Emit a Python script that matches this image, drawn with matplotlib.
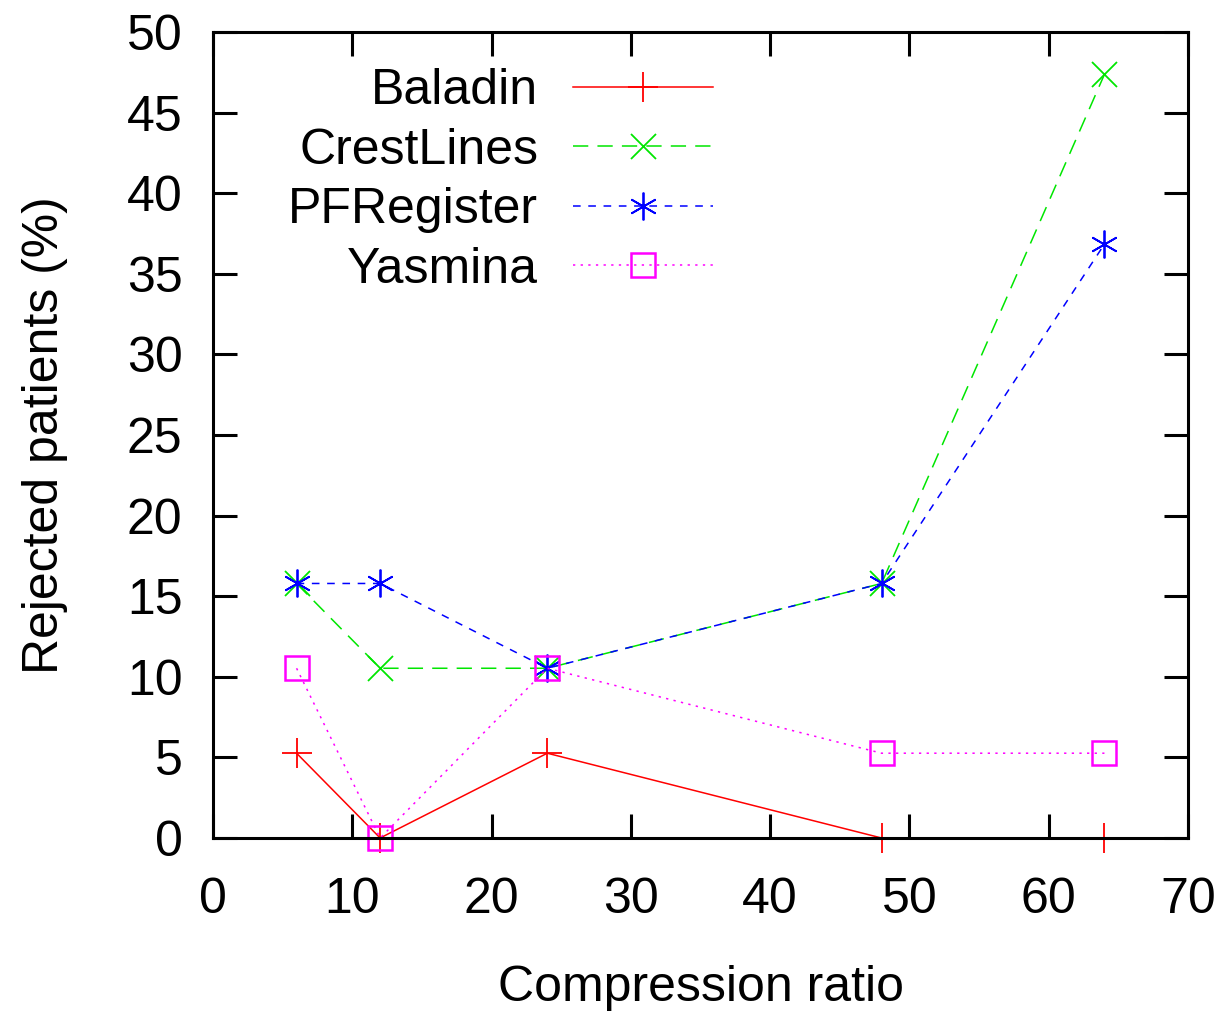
import matplotlib
matplotlib.use("Agg")
import matplotlib.pyplot as plt

ratios = [6, 12, 24, 48, 64]
baladin = [5.26, 0.0, 5.26, 0.0, 0.0]
crestlines = [15.79, 10.53, 10.53, 15.79, 47.37]
pfregister = [15.79, 15.79, 10.53, 15.79, 36.84]
yasmina = [10.53, 0.0, 10.53, 5.26, 5.26]

x_ticks = [0, 10, 20, 30, 40, 50, 60, 70]
y_ticks = [0, 5, 10, 15, 20, 25, 30, 35, 40, 45, 50]

plt.rcParams['font.family'] = ['Liberation Sans', 'DejaVu Sans']
fs = 36

fig = plt.figure(figsize=(12.26, 10.18), dpi=100)
ax = fig.add_axes([213/1226, 1 - 838/1018, 975/1226, 806/1018])

lw = 1.1
ax.plot(ratios, baladin, color='#ff0000', lw=lw, ls='-', marker='+',
        markersize=22, markeredgewidth=1.3, label='Baladin', clip_on=False)
ax.plot(ratios, crestlines, color='#00e600', lw=lw, dashes=(10, 6), marker='x',
        markersize=18, markeredgewidth=1.3, label='CrestLines', clip_on=False)
ax.plot(ratios, pfregister, color='#0000ff', lw=lw, dashes=(5, 5), marker=(6, 2, 0),
        markersize=20, markeredgewidth=1.3, label='PFRegister', clip_on=False)
ax.plot(ratios, yasmina, color='#ff00ff', lw=lw, dashes=(1.5, 3.5), marker='s',
        markersize=17, markeredgewidth=1.8, markerfacecolor='none', label='Yasmina',
        clip_on=False)

ax.set_xlim(0, 70)
ax.set_ylim(0, 50)
ax.set_xticks(x_ticks)
ax.set_yticks(y_ticks)
ax.tick_params(direction='in', length=17, width=2.2, labelsize=fs,
               top=True, right=True)
ax.tick_params(axis='x', pad=28)
ax.tick_params(axis='y', pad=22)
for s in ax.spines.values():
    s.set_linewidth(2.2)
    s.set_zorder(5)

ax.set_xlabel('Compression ratio', fontsize=fs, labelpad=30)
ax.set_ylabel('Rejected patients (%)', fontsize=fs, labelpad=42)

leg = ax.legend(loc='upper right', bbox_to_anchor=(0.513, 0.955), frameon=False,
                markerfirst=False, fontsize=fs, handlelength=2.8,
                handletextpad=0.7, labelspacing=0.27, borderaxespad=0, borderpad=0)

fig.savefig('out.png', dpi=100)
